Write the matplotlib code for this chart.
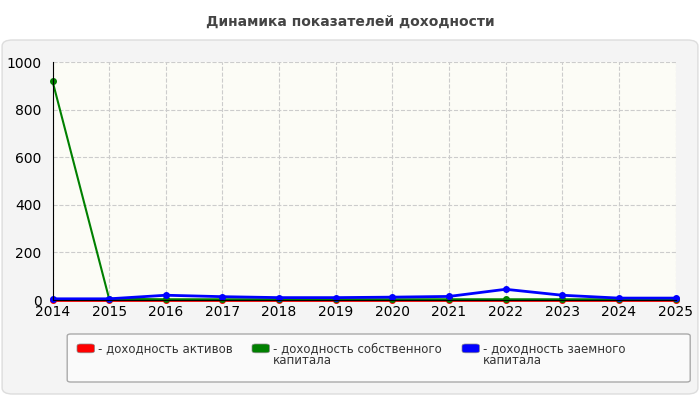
import matplotlib.pyplot as plt
from matplotlib.patches import FancyBboxPatch

years = [2014, 2015, 2016, 2017, 2018, 2019, 2020, 2021, 2022, 2023, 2024, 2025]
assets = [1, 1, 1, 1, 1, 1, 1, 1, 1, 1, 1, 1]
equity = [920, 5, 3, 3, 3, 3, 3, 3, 3, 3, 3, 3]
debt = [5, 5, 20, 14, 10, 10, 12, 15, 45, 20, 8, 8]

fig = plt.figure(figsize=(7, 4), dpi=100)
fig.patch.set_facecolor('white')
panel = FancyBboxPatch((0.003, 0.015), 0.994, 0.885, boxstyle='round,pad=0,rounding_size=0.015',
                       transform=fig.transFigure, facecolor='#f4f4f4', edgecolor='#dddddd',
                       zorder=-10)
fig.patches.append(panel)
fig.text(0.5, 0.945, 'Динамика показателей доходности', ha='center', va='center',
         fontsize=10, fontweight='bold', color='#444444')

ax = fig.add_axes([0.075, 0.25, 0.89, 0.595])
ax.set_facecolor('#fcfcf6')
ax.plot(years, assets, color='red', lw=2, marker='o', ms=4, clip_on=False)
ax.plot(years, equity, color='green', lw=1.5, marker='o', ms=4, clip_on=False)
ax.plot(years, debt, color='blue', lw=2, marker='o', ms=4, clip_on=False)
ax.set_xlim(2014, 2025)
ax.set_ylim(0, 1000)
ax.set_xticks(years)
ax.set_yticks([0, 200, 400, 600, 800, 1000])
ax.grid(color='#cccccc', ls='--', lw=0.8)
for s in ['top', 'right']:
    ax.spines[s].set_visible(False)
ax.tick_params(length=0, labelsize=10)
ax.tick_params(axis='y', pad=8)

legend_box = FancyBboxPatch((0.096, 0.045), 0.89, 0.12, boxstyle='round,pad=0,rounding_size=0.005',
                            transform=fig.transFigure, facecolor='#fafafa', edgecolor='#aaaaaa')
fig.patches.append(legend_box)
items = [('red', 'доходность активов', 0.11),
         ('green', 'доходность собственного\nкапитала', 0.36),
         ('blue', 'доходность заемного\nкапитала', 0.66)]
for c, label, x in items:
    fig.patches.append(FancyBboxPatch((x, 0.118), 0.025, 0.022, boxstyle='round,pad=0,rounding_size=0.005',
                                      transform=fig.transFigure, facecolor=c, edgecolor='#888888', lw=0.5))
    fig.text(x + 0.03, 0.145, '- ' + label, ha='left', va='top', fontsize=8.5, color='#333333',
             linespacing=0.9)

fig.savefig('out.png', dpi=100)
